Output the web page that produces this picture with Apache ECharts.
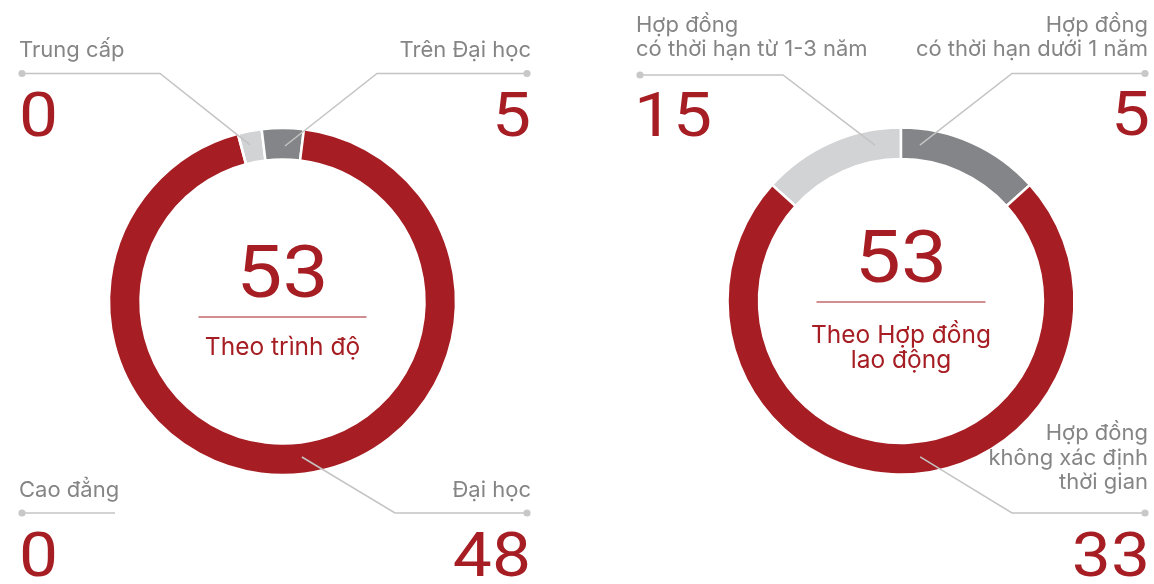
<!DOCTYPE html>
<html>
<head>
<meta charset="utf-8">
<script src="https://cdn.jsdelivr.net/npm/echarts@6/dist/echarts.min.js"></script>
<style>
  html, body { margin: 0; padding: 0; background: #fff; }
  #chart-container { width: 1154px; height: 584px; }
</style>
</head>
<body>
<div id="chart-container"></div>
<script>
// Theo trinh do
const levelNames = ['Trung cấp', 'Trên Đại học', 'Đại học', 'Cao đẳng'];
const levelCounts = [0, 5, 48, 0];
const levelArcs = [8, 14, 338, 0]; // arc sizes as drawn in the picture (deg)

// Theo hop dong lao dong
const contractNames = ['Hợp đồng\ncó thời hạn từ 1-3 năm', 'Hợp đồng\ncó thời hạn dưới 1 năm', 'Hợp đồng\nkhông xác định\nthời gian'];
const contractCounts = [15, 5, 33];
const contractArcs = [48, 48, 264];

const RED = '#a61e23';
const DARK = '#848588';
const LIGHT = '#d2d3d5';
const GREY_TXT = '#858585';
const LINE = '#c4c4c4';

const sum = arr => arr.reduce((a, b) => a + b, 0);

const leftC = [282.5, 301.5];
const rightC = [901, 301];

// point on the ring, angle clockwise from top
const ringPt = (c, deg, r) => {
	const a = deg * Math.PI / 180;
	return [c[0] + r * Math.sin(a), c[1] - r * Math.cos(a)];
};

// big numbers are drawn a little wider, like the squared digits of the original
const bigNum = (text, x, y, align, size) => ({
	type: 'text', z: 10, x: x, y: y, scaleX: 1.14,
	style: { text: text, x: 0, y: 0, align: align, verticalAlign: 'middle',
		font: size + 'px Roboto', fill: RED }
});

const callout = (o) => {
	const align = o.side === 'left' ? 'left' : 'right';
	return [
		{
			type: 'text', z: 10,
			style: { text: o.name, x: o.x, y: o.labelY, align: align, verticalAlign: 'middle',
				font: '22px Inter', lineHeight: 24.5, fill: GREY_TXT }
		},
		{
			type: 'polyline', z: 10,
			shape: { points: o.end ? [[o.dotX, o.lineY], [o.cornerX, o.lineY], o.end] : [[o.dotX, o.lineY], [o.cornerX, o.lineY]] },
			style: { stroke: LINE, lineWidth: 1.5, fill: null }
		},
		{
			type: 'circle', z: 11,
			shape: { cx: o.dotX, cy: o.lineY, r: 3.6 },
			style: { fill: '#c8c8c8' }
		},
		bigNum(String(o.count), o.numX, o.numY, align, 61)
	];
};

const centerBlock = (c, total, title, numY, sepY, titleY, halfW) => [
	bigNum(String(total), c[0], numY, 'center', 72),
	{
		type: 'line', z: 10,
		shape: { x1: c[0] - halfW, y1: sepY, x2: c[0] + halfW, y2: sepY },
		style: { stroke: RED, lineWidth: 1.2 }
	},
	{
		type: 'text', z: 10,
		style: { text: title, x: c[0], y: titleY, align: 'center', verticalAlign: 'middle',
			font: '24.5px Inter', lineHeight: 25.5, fill: RED }
	}
];

const graphics = [].concat(
	callout({ side: 'left', name: levelNames[0], count: levelCounts[0], x: 19, labelY: 50, dotX: 22, cornerX: 160, lineY: 73.5,
		end: ringPt(leftC, -11.7, 160), numX: 19, numY: 121 }),
	callout({ side: 'right', name: levelNames[1], count: levelCounts[1], x: 531, labelY: 50, dotX: 527, cornerX: 377, lineY: 73.5,
		end: ringPt(leftC, 0.9, 155.5), numX: 531, numY: 121 }),
	callout({ side: 'right', name: levelNames[2], count: levelCounts[2], x: 531, labelY: 490, dotX: 527, cornerX: 395, lineY: 513,
		end: ringPt(leftC, 172.9, 156.7), numX: 531, numY: 561 }),
	callout({ side: 'left', name: levelNames[3], count: levelCounts[3], x: 19, labelY: 490, dotX: 22, cornerX: 115, lineY: 513,
		end: null, numX: 19, numY: 561 }),
	callout({ side: 'left', name: contractNames[0], count: contractCounts[0], x: 636, labelY: 37.5, dotX: 640, cornerX: 783, lineY: 75,
		end: ringPt(rightC, -9.5, 158), numX: 634, numY: 121 }),
	callout({ side: 'right', name: contractNames[1], count: contractCounts[1], x: 1148, labelY: 37.5, dotX: 1145, cornerX: 1012, lineY: 73.5,
		end: ringPt(rightC, 6.9, 157), numX: 1150, numY: 120 }),
	callout({ side: 'right', name: contractNames[2], count: contractCounts[2], x: 1148, labelY: 458, dotX: 1145, cornerX: 1012, lineY: 513,
		end: ringPt(rightC, 173, 157), numX: 1150, numY: 561 }),
	centerBlock(leftC, sum(levelCounts), 'Theo trình độ', 279, 317, 348, 84),
	centerBlock(rightC, sum(contractCounts), 'Theo Hợp đồng\nlao động', 264, 302, 348, 84.5)
);

const ring = (center, names, arcs, colors, startAngle) => ({
	type: 'pie',
	center: center,
	radius: [142, 173.5],
	startAngle: startAngle,
	clockwise: true,
	silent: true,
	avoidLabelOverlap: false,
	label: { show: false },
	labelLine: { show: false },
	itemStyle: { borderColor: '#fff', borderWidth: 2.5 },
	data: names.map((n, i) => ({ name: n, value: arcs[i], itemStyle: { color: colors[i] } }))
});

const myChart = echarts.init(document.getElementById('chart-container'));
const option = {
	animation: false,
	backgroundColor: '#fff',
	series: [
		ring(leftC, levelNames, levelArcs, [LIGHT, DARK, RED, LIGHT], 104.9),
		ring(rightC, contractNames, contractArcs, [LIGHT, DARK, RED], 138)
	],
	graphic: graphics
};
myChart.setOption(option);
</script>
</body>
</html>
